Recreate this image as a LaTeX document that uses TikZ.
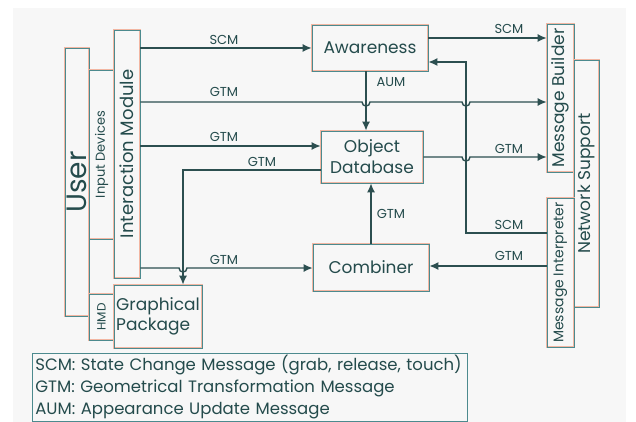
\documentclass[tikz,border=0pt]{standalone}
\usepackage{fontspec}
\setmainfont{Poppins}
\usetikzlibrary{arrows.meta}
\definecolor{ink}{HTML}{244B4C}
\definecolor{wire}{HTML}{2C4F50}
\definecolor{edge}{HTML}{4C8A8E}
\definecolor{blush}{HTML}{F2B6A2}
\definecolor{paper}{HTML}{F7F7F7}
\tikzset{
  x=1pt, y=-1pt,
  box/.style={draw=edge, line width=0.7pt, inner sep=0pt, text=ink,
    font=\fontsize{17}{20}\selectfont, align=center,
    preaction={draw=blush, line width=1.7pt}},
  vbox/.style={box, rotate=90},
  lbl/.style={text=ink, inner sep=0pt, font=\fontsize{13}{15}\selectfont},
  wire/.style={draw=wire, line width=1.4pt},
  arr/.style={wire, -{Latex[length=9pt,width=8pt]}},
}
\newcommand{\hop}[2]{-- (#1-4,#2) .. controls (#1-4,#2+5.3) and (#1+4,#2+5.3) .. (#1+4,#2)}
\begin{document}
\begin{tikzpicture}
% canvas
\fill[white] (0,0) rectangle (636,422);
\fill[paper] (13,8) rectangle (626,422);
\useasboundingbox (0,0) rectangle (636,422);

% user side
\node[vbox, minimum width=268, minimum height=24, font=\fontsize{28}{30}\selectfont] (user) at (77,182) {User};
\node[vbox, minimum width=169, minimum height=25, font=\fontsize{13}{15}\selectfont] (indev) at (101.5,154.5) {Input Devices};
\node[vbox, minimum width=248, minimum height=26, font=\fontsize{18}{20}\selectfont] (im) at (127,154) {Interaction Module};
\node[vbox, minimum width=46, minimum height=25, font=\fontsize{12}{14}\selectfont] (hmd) at (101.5,317) {HMD};
\node[box, minimum width=88, minimum height=63, align=left] (gp) at (158,316.5) {Graphical\\Package};

% central modules
\node[box, minimum width=116, minimum height=46] (aw) at (370,48) {Awareness};
\node[box, minimum width=102, minimum height=52, font=\fontsize{17}{21}\selectfont] (odb) at (372,157) {Object\\Database};
\node[box, minimum width=116, minimum height=47] (comb) at (371,267.5) {Combiner};

% network side
\node[vbox, minimum width=148, minimum height=27] (mb) at (560.5,98) {Message Builder};
\node[vbox, minimum width=247, minimum height=25] (ns) at (586.5,183.5) {Network Support};
\node[vbox, minimum width=149, minimum height=27, font=\fontsize{14}{16}\selectfont] (mi) at (560.5,272.5) {Message Interpreter};

% legend
\node[box, minimum width=435, minimum height=68, align=left, anchor=north west,
  text width=429, inner xsep=3pt, font=\fontsize{16.5}{22}\selectfont] (legend) at (32,353)
  {SCM: State Change Message (grab, release, touch)\\
   GTM: Geometrical Transformation Message\\
   AUM: Appearance Update Message};

% crossing columns
\coordinate (xa) at (366,0);
\coordinate (xs) at (466,0);
\coordinate (xg) at (183,0);

% connectors
\draw[arr] (im.south |- aw.west) -- (aw.west);
\draw[arr] (im.south |- 0,102) \hop{366}{102} \hop{466}{102} -- (mb.north |- 0,102);
\draw[arr] (im.south |- 0,146) -- (odb.west |- 0,146);
\draw[arr] (odb.west |- 0,170) -- (xg |- 0,170) -- (xg |- gp.north);
\draw[arr] (im.south |- 0,268) \hop{183}{268} -- (comb.west |- 0,268);
\draw[arr] (aw.south -| xa) -- (odb.north -| xa);
\draw[arr] (aw.east |- 0,38) -- (mb.north |- 0,38);
\draw[arr] (odb.east |- 0,157) \hop{466}{157} -- (mb.north |- 0,157);
\draw[arr] (mi.north |- 0,233) -- (xs |- 0,233) -- (xs |- 0,62) -- (aw.east |- 0,62);
\draw[arr] (mi.north |- 0,266) -- (comb.east |- 0,266);
\draw[arr] (comb.north -| 371,0) -- (odb.south -| 371,0);

% connector labels
\node[lbl] (l1) at (224,40) {SCM};
\node[lbl] (l2) at (224,92) {GTM};
\node[lbl] (l3) at (224,137) {GTM};
\node[lbl] (l4) at (262,162) {GTM};
\node[lbl] (l5) at (224,260) {GTM};
\node[lbl] (l6) at (509,29) {SCM};
\node[lbl] (l7) at (391,82) {AUM};
\node[lbl] (l8) at (509,149) {GTM};
\node[lbl] (l9) at (509,225) {SCM};
\node[lbl] (l10) at (509,256) {GTM};
\node[lbl] (l11) at (391,214) {GTM};
\end{tikzpicture}
\end{document}
